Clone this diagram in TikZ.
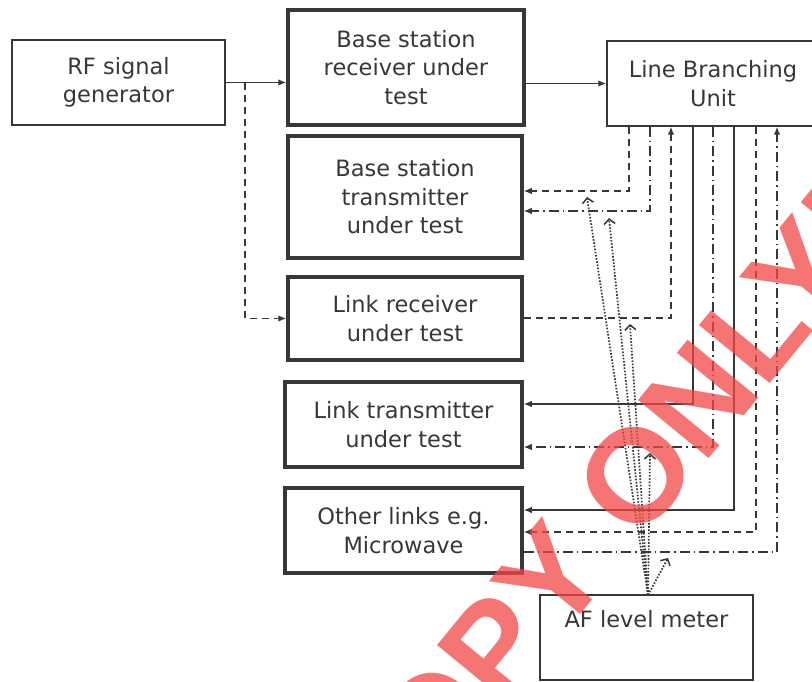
\documentclass[tikz,border=0pt]{standalone}
\usepackage{fontspec}
\setmainfont{DejaVu Sans}
\newfontfamily\wmfont{Liberation Sans}
\usetikzlibrary{arrows.meta,calc}
\definecolor{ink}{RGB}{55,55,55}
\definecolor{wmred}{RGB}{242,70,70}
\begin{document}
\begin{tikzpicture}[x=1pt,y=-1pt,
  every node/.style={text=ink},
  thinbox/.style={draw=ink,line width=1.5pt,inner sep=0pt,align=center,
    font=\fontsize{22.5}{28.5}\selectfont},
  thickbox/.style={thinbox,line width=3.5pt},
  conn/.style={draw=ink,line width=1.3pt},
  tip/.style={-{Latex[length=8pt,width=6.5pt]}},
  dashline/.style={conn,dash pattern=on 7pt off 5pt},
  dotdash/.style={conn,dash pattern=on 10pt off 4pt on 1.5pt off 4pt},
  dotline/.style={draw=ink,line width=1.7pt,dash pattern=on 1.6pt off 1.6pt,
    -{Straight Barb[length=5pt,width=11pt,line width=1.5pt]}}
]
\useasboundingbox (0,0) rectangle (812,682);

% boxes
\node[thinbox,minimum width=213pt,minimum height=85pt] (rf) at (118.5,82.5) {RF signal\\generator};
\node[thickbox,minimum width=236pt,minimum height=115pt] (bsr) at (406,67.5) {Base station\\receiver under\\test};
\node[thinbox,minimum width=212pt,minimum height=85pt] (lbu) at (713,83.5) {Line Branching\\Unit};
\node[thickbox,minimum width=234pt,minimum height=122pt] (bst) at (405,197) {Base station\\transmitter\\under test};
\node[thickbox,minimum width=234pt,minimum height=83pt] (lrx) at (405,318.5) {Link receiver\\under test};
\node[thickbox,minimum width=237pt,minimum height=85pt] (ltx) at (403.5,424.5) {Link transmitter\\under test};
\node[thickbox,minimum width=237pt,minimum height=85pt] (oth) at (403.5,530.5) {Other links e.g.\\Microwave};
\node[thinbox,minimum width=213pt,minimum height=85pt] (af) at (646.5,637.5) {AF level meter\\\strut};

% top connectors
\coordinate (sp) at (245,83);
\draw[conn,tip] (rf.east) -- (bsr.west |- rf.east);
\draw[dashline,tip] (sp) |- (lrx.west);
\draw[conn,tip] (bsr.east |- lbu.west) -- (lbu.west);

% LBU branches
\coordinate (c1) at (629,191);
\coordinate (c2) at (650,211);
\coordinate (c3) at (671,318);
\coordinate (c4) at (693,404);
\coordinate (c5) at (713,447);
\coordinate (c6) at (734,510);
\coordinate (c7) at (756,532);
\coordinate (c8) at (777,552);
\draw[dashline,tip] (lbu.south -| c1) -- (c1) -- (bst.east |- c1);
\draw[dotdash,tip] (lbu.south -| c2) -- (c2) -- (bst.east |- c2);
\draw[dashline,tip] (lrx.east |- c3) -- (c3) -- (lbu.south -| c3);
\draw[conn,tip] (lbu.south -| c4) -- (c4) -- (ltx.east |- c4);
\draw[dotdash,tip] (lbu.south -| c5) -- (c5) -- (ltx.east |- c5);
\draw[conn,tip] (lbu.south -| c6) -- (c6) -- (oth.east |- c6);
\draw[dashline,tip] (lbu.south -| c7) -- (c7) -- (oth.east |- c7);
\draw[dotdash,tip] (oth.east |- c8) -- (c8) -- (lbu.south -| c8);

% AF meter probes
\coordinate (afp) at (648,595);
\coordinate (t1) at (587,197);
\coordinate (t2) at (609,218);
\coordinate (t3) at (630,324);
\coordinate (t4) at (650,453);
\coordinate (t5) at (668,558);
\foreach \t in {t1,t2,t3,t4,t5}
  \draw[dotline] (afp) -- (\t);

% watermark
\node[text=wmred,opacity=0.75,rotate=50.6,inner sep=0pt,
  font=\wmfont\bfseries\fontsize{133}{133}\selectfont] (wm) at (606,512) {COPY ONLY”};
\end{tikzpicture}
\end{document}
